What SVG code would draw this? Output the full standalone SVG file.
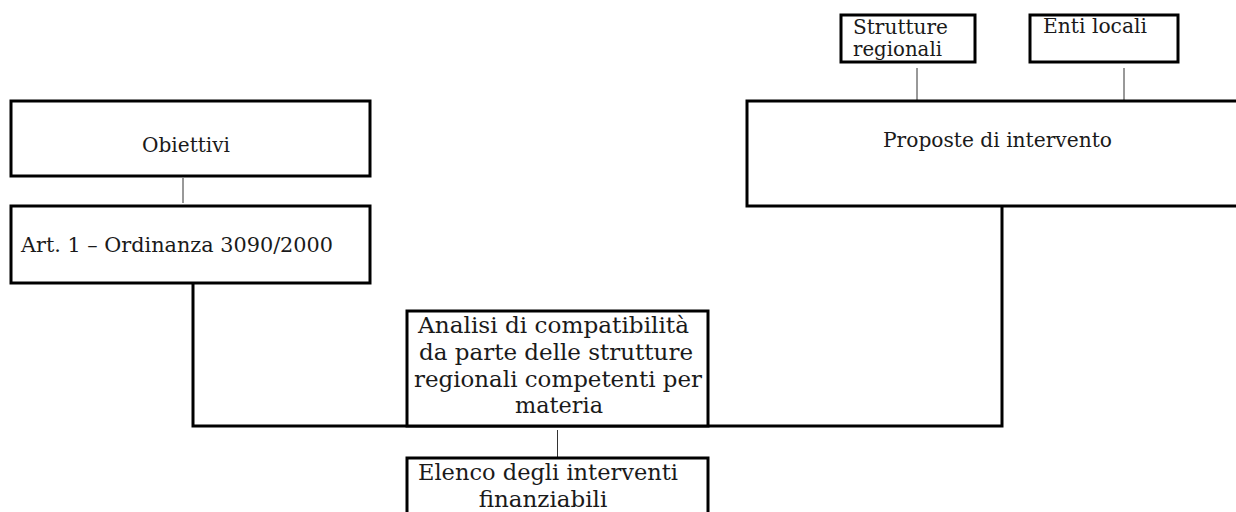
<svg xmlns="http://www.w3.org/2000/svg" width="1236" height="512" viewBox="0 0 1236 512">
<style>
.box{fill:#fff;stroke:#000;stroke-width:3}
.t{font-family:"DejaVu Serif","Liberation Serif",serif;fill:#1a1a1a;font-size:21px}
.b{font-size:23px}
.thin{stroke:#333;stroke-width:1;fill:none}
.thick{stroke:#000;stroke-width:3;fill:none}
</style>
<rect width="1236" height="512" fill="#fff"/>
<g id="connectors">
<line class="thin" x1="917" y1="68" x2="917" y2="100"/>
<line class="thin" x1="1124" y1="68" x2="1124" y2="100"/>
<line class="thin" x1="183" y1="178" x2="183" y2="203"/>
<polyline class="thick" points="193,283 193,426 1002,426 1002,206"/>
<line class="thin" x1="557.5" y1="430" x2="557.5" y2="457"/>
</g>
<g id="strutture">
<rect class="box" x="841" y="15" width="134" height="47"/>
<text class="t" x="853" y="34" textLength="95" lengthAdjust="spacingAndGlyphs">Strutture</text>
<text class="t" x="853" y="56" textLength="89" lengthAdjust="spacingAndGlyphs">regionali</text>
</g>
<g id="enti">
<rect class="box" x="1030" y="15" width="148" height="47"/>
<text class="t" x="1043" y="33" textLength="104" lengthAdjust="spacingAndGlyphs">Enti locali</text>
</g>
<g id="proposte">
<rect class="box" x="747" y="101" width="500" height="105"/>
<text class="t" x="883" y="147" textLength="229" lengthAdjust="spacingAndGlyphs">Proposte di intervento</text>
</g>
<g id="obiettivi">
<rect class="box" x="11" y="101" width="359" height="75"/>
<text class="t" x="142" y="152" textLength="88" lengthAdjust="spacingAndGlyphs">Obiettivi</text>
</g>
<g id="art">
<rect class="box" x="11" y="206" width="359" height="77"/>
<text class="t" x="21" y="252" textLength="312" lengthAdjust="spacingAndGlyphs">Art. 1 – Ordinanza 3090/2000</text>
</g>
<g id="analisi">
<rect class="box" x="407" y="311" width="301" height="115"/>
<text class="t b" x="418" y="333" textLength="271" lengthAdjust="spacingAndGlyphs">Analisi di compatibilità</text>
<text class="t b" x="419" y="360" textLength="274" lengthAdjust="spacingAndGlyphs">da parte delle strutture</text>
<text class="t b" x="414" y="386.5" textLength="288" lengthAdjust="spacingAndGlyphs">regionali competenti per</text>
<text class="t b" x="515" y="413" textLength="88" lengthAdjust="spacingAndGlyphs">materia</text>
</g>
<g id="elenco">
<rect class="box" x="407" y="458" width="301" height="70"/>
<text class="t b" x="418" y="480" textLength="260" lengthAdjust="spacingAndGlyphs">Elenco degli interventi</text>
<text class="t b" x="543" y="507" text-anchor="middle">finanziabili</text>
</g>
</svg>
